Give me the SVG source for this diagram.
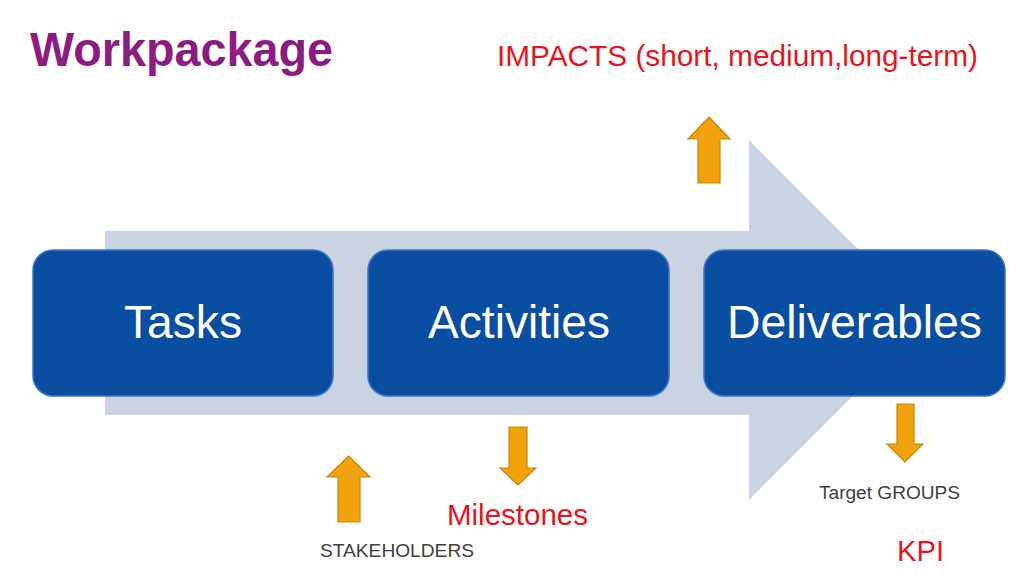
<svg xmlns="http://www.w3.org/2000/svg" width="1024" height="576" viewBox="0 0 1024 576">
<style>
.box{fill:#0a4ea2;stroke:#3f77c0;stroke-width:1.5}
.bt{font-family:"Liberation Sans",Arial,sans-serif;font-size:47px;fill:#ffffff;text-anchor:middle}
.oa{fill:#f2a20d;stroke:#c7860a;stroke-width:1.2}
.red{font-family:"Liberation Sans",Arial,sans-serif;fill:#e8141b}
.gray{font-family:"Liberation Sans",Arial,sans-serif;fill:#404040;font-size:18px}
</style>
<rect width="1024" height="576" fill="#ffffff"/>
<g id="bigarrow">
<path d="M105,231 L749,231 L749,140 L929,320 L749,500 L749,415 L105,415 Z" fill="#cbd2e1"/>
</g>
<g id="tasks"><rect class="box" x="33" y="250" width="300" height="146" rx="20"/><text class="bt" x="183" y="338" textLength="118" lengthAdjust="spacingAndGlyphs">Tasks</text></g>
<g id="activities"><rect class="box" x="368" y="250" width="301" height="146" rx="20"/><text class="bt" x="519" y="338" textLength="182" lengthAdjust="spacingAndGlyphs">Activities</text></g>
<g id="deliverables"><rect class="box" x="704" y="250" width="301" height="146" rx="20"/><text class="bt" x="854.5" y="338" textLength="255" lengthAdjust="spacingAndGlyphs">Deliverables</text></g>
<g id="connectors">
<path class="oa" d="M709,117 L730,139 L720,139 L720,183 L698,183 L698,139 L688,139 Z"/>
<path class="oa" d="M348.5,456 L370,477 L360,477 L360,522 L338,522 L338,477 L327,477 Z"/>
<path class="oa" d="M509,427 L527,427 L527,468 L536,468 L518,485 L500,468 L509,468 Z"/>
<path class="oa" d="M897,404 L914,404 L914,444 L923,444 L905,462 L887,444 L897,444 Z"/>
</g>
<g id="title"><text x="30" y="66" font-family="Liberation Sans,Arial,sans-serif" font-weight="bold" font-size="48" fill="#8c1c80" textLength="303" lengthAdjust="spacingAndGlyphs">Workpackage</text></g>
<g id="impacts"><text class="red" x="497" y="66" font-size="30" textLength="481" lengthAdjust="spacingAndGlyphs">IMPACTS (short, medium,long-term)</text></g>
<g id="milestones"><text class="red" x="447" y="525" font-size="30" textLength="141" lengthAdjust="spacingAndGlyphs">Milestones</text></g>
<g id="stakeholders"><text class="gray" x="320" y="557" textLength="154" lengthAdjust="spacingAndGlyphs">STAKEHOLDERS</text></g>
<g id="targetgroups"><text class="gray" x="819" y="499" textLength="141" lengthAdjust="spacingAndGlyphs">Target GROUPS</text></g>
<g id="kpi"><text class="red" x="897" y="561" font-size="30" textLength="47" lengthAdjust="spacingAndGlyphs">KPI</text></g>
</svg>
